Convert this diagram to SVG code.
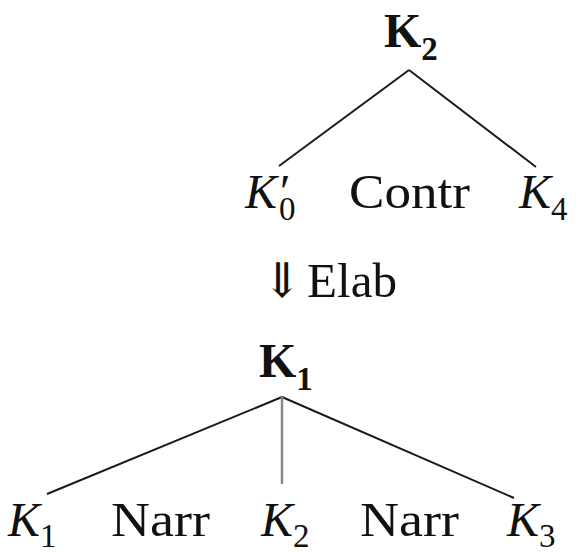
<svg xmlns="http://www.w3.org/2000/svg" width="576" height="554" viewBox="0 0 576 554">
<style>
text{font-family:"Liberation Serif","DejaVu Serif",serif;fill:#111}
.m{font-size:48px}
.b{font-weight:bold}
.i{font-style:italic}
.s{font-size:33px;font-style:normal}
.e{stroke:#1a1a1a;stroke-width:2;fill:none}
.g{stroke:#888;stroke-width:2.5}
</style>
<rect width="576" height="554" fill="#fff"/>
<g id="edges">
<path class="e" d="M409 70L279 166M409 70L536 167"/>
<path class="e" d="M282 397L47 494M282 397L514 498"/>
<path class="e g" d="M282 397V484"/>
</g>
<g id="K2top"><text class="m b" x="384" y="47">K<tspan class="s b" dy="13">2</tspan></text></g>
<g id="K0p"><text class="m i" x="245" y="208">K′</text><text class="s" x="279" y="220">0</text></g>
<g id="contr"><text class="m" x="349" y="208" textLength="121" lengthAdjust="spacingAndGlyphs">Contr</text></g>
<g id="K4"><text class="m i" x="519" y="208">K<tspan class="s" dy="12">4</tspan></text></g>
<g id="elab"><text class="m" x="262" y="297">⇓</text><text class="m" x="307" y="297" textLength="90" lengthAdjust="spacingAndGlyphs">Elab</text></g>
<g id="K1top"><text class="m b" x="259" y="377">K<tspan class="s b" dy="13">1</tspan></text></g>
<g id="K1"><text class="m i" x="8" y="536">K<tspan class="s" dy="11">1</tspan></text></g>
<g id="narr1"><text class="m" x="111" y="536" textLength="99" lengthAdjust="spacingAndGlyphs">Narr</text></g>
<g id="K2"><text class="m i" x="261" y="536">K<tspan class="s" dy="11">2</tspan></text></g>
<g id="narr2"><text class="m" x="360" y="536" textLength="99" lengthAdjust="spacingAndGlyphs">Narr</text></g>
<g id="K3"><text class="m i" x="507" y="536">K<tspan class="s" dy="11">3</tspan></text></g>
</svg>
